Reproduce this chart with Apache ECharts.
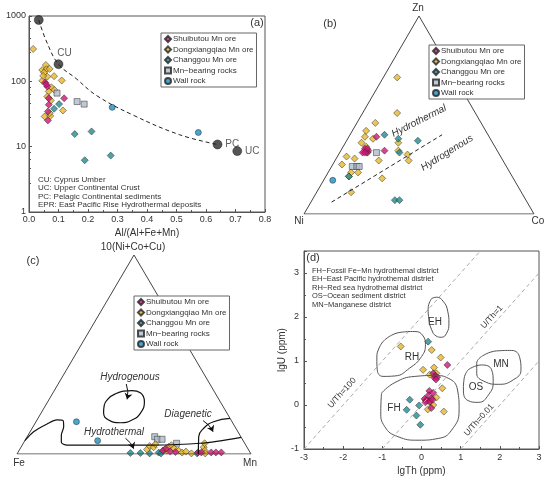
<!DOCTYPE html>
<html>
<head>
<meta charset="utf-8">
<script src="https://cdn.jsdelivr.net/npm/echarts@6/dist/echarts.min.js"></script>
<style>
  html, body { margin: 0; padding: 0; background: #fff; }
  #main { width: 550px; height: 478px; }
</style>
</head>
<body>
<div id="main"></div>
<script>
// ---------------------------------------------------------------- names / colours
var seriesNames = ['Shuibutou Mn ore', 'Dongxiangqiao Mn ore', 'Changgou Mn ore', 'Mn\u2212bearing rocks', 'Wall rock'];

// ---------------------------------------------------------------- (a) Fe/Ti vs Al/(Al+Fe+Mn)
var aShuibutou = [[0.055, 96], [0.062, 83], [0.067, 55], [0.119, 55], [0.067, 44], [0.064, 34.5], [0.064, 25.2], [0.058, 90]];
var aDongxiangqiao = [[0.014, 313], [0.057, 178], [0.045, 149], [0.059, 153], [0.051, 136], [0.070, 155], [0.045, 102],
    [0.062, 118], [0.085, 120], [0.111, 103], [0.076, 81], [0.067, 70], [0.086, 74], [0.062, 58.5], [0.074, 51],
    [0.053, 29], [0.072, 29.6], [0.115, 35.8], [0.048, 121], [0.070, 32.6]];
var aChanggou = [[0.102, 44.8], [0.085, 38], [0.155, 15.6], [0.212, 17.1], [0.189, 6.2], [0.277, 7.3]];
var aMnRocks = [[0.095, 66], [0.163, 49], [0.187, 44.8]];
var aWallRock = [[0.282, 40], [0.574, 16.5]];
var aRefPoints = [[0.033, 870, ''], [0.100, 183, 'CU'], [0.639, 10.8, 'PC'], [0.706, 8.55, 'UC']];
var aMixCurve = [[0.033, 870], [0.060, 400], [0.100, 183], [0.160, 110], [0.228, 61], [0.351, 30.7], [0.511, 15.2], [0.639, 10.8]];
var aMixTicks = [[0.104, 167, '80'], [0.228, 61, '60'], [0.351, 30.7, '40'], [0.511, 15.2, '20']];
var aNotes = ['CU: Cyprus Umber', 'UC: Upper Continental Crust', 'PC: Pelagic Continental sediments', 'EPR: East Pacific Rise Hydrothermal deposits'];

// ---------------------------------------------------------------- (b) Ni-Co-Zn, each row [Ni, Co, Zn] %
var bShuibutou = [[57, 10, 33], [56, 12, 32], [57, 12, 31], [59, 10, 31], [56, 11, 33], [58, 11, 31], [49, 12, 39], [49, 19, 32]];
var bDongxiangqiao = [[25, 6, 69], [34, 15, 51], [46, 8, 46], [52, 6, 42], [54, 7, 39], [51, 11, 38], [57, 7, 36], [56, 10, 34],
    [57, 12, 31], [67, 4, 29], [64, 8, 28], [71, 4, 25], [54, 19, 27], [69, 10, 21], [66, 13, 21], [71, 10, 19], [57, 25, 18],
    [74, 15, 11], [41, 23, 36], [43, 25, 32], [40, 30, 30], [41, 32, 27]];
var bChanggou = [[45, 15, 40], [40, 22, 38], [43, 26, 31], [32, 31, 37], [71, 10, 19], [57, 36, 7], [55, 38, 7]];
var bMnRocks = [[53, 16, 31], [67, 9, 24], [65, 11, 24], [64, 12, 24]];
var bWallRock = [[79, 4, 17]];
var bDivider = [[85, 9, 6], [20, 40, 40]];

// ---------------------------------------------------------------- (c) Fe-Mn-10(Ni+Co+Cu), each row [Fe, Mn, 10(Ni+Co+Cu)] %
var cShuibutou = [[36.8, 61.5, 1.7], [35.0, 62.3, 2.7], [31.8, 67.2, 1.0], [22.2, 77.0, 0.8], [20.8, 78.4, 0.8],
    [16.6, 82.6, 0.8], [14.6, 84.6, 0.8], [12.3, 86.9, 0.8], [33.9, 64.9, 1.2]];
var cDongxiangqiao = [[43.3, 54.4, 2.3], [41.3, 54.7, 4.0], [39.9, 56.7, 3.4], [38.4, 56.7, 4.9], [35.7, 62.0, 2.3],
    [33.3, 63.0, 3.7], [31.8, 63.8, 4.4], [31.5, 65.7, 2.8], [30.1, 68.2, 1.7], [29.1, 70.2, 0.7], [27.2, 71.6, 1.2],
    [25.3, 74.4, 0.3], [18.5, 78.1, 3.4], [18.9, 79.4, 1.7], [19.4, 80.3, 0.3], [17.1, 77.5, 5.4], [35.0, 63.3, 1.7]];
var cChanggou = [[51.3, 48.2, 0.5], [47.0, 52.5, 0.5], [43.2, 56.5, 0.3], [39.1, 60.2, 0.7], [38.3, 61.4, 0.3], [22.9, 76.8, 0.3]];
var cMnRocks = [[36.8, 54.5, 8.7], [36.3, 56.3, 7.4], [34.3, 58.3, 7.4], [29.1, 65.5, 5.4]];
var cWallRock = [[66.5, 17.3, 16.2], [62.2, 31.1, 6.7]];
var cHydrogenousField = [[48.0, 24.9, 27.1], [42.9, 26.9, 30.2], [35.0, 33.2, 31.8], [31.9, 37.3, 30.8], [32.4, 41.3, 26.3],
    [37.1, 42.5, 20.4], [42.3, 40.6, 17.1], [47.9, 36.4, 15.7], [52.3, 30.6, 17.1], [52.6, 26.6, 20.8], [50.4, 25.0, 24.6],
    [48.0, 24.9, 27.1]];
var cHydrothermalLine = [[93.3, 0, 6.7], [87.3, 1.5, 11.2], [79.6, 5.3, 15.1], [74.4, 8.5, 17.1], [71.9, 11.3, 16.8],
    [73.2, 13.1, 13.7], [76.3, 14.2, 9.5], [78.1, 16.0, 5.9], [76.4, 19.1, 4.5], [40.8, 54.7, 4.5], [19.0, 75.6, 5.4], [0, 91.6, 8.4]];
var cDiageneticLine = [[22.5, 77.5, 0], [18.0, 73.3, 8.7], [13.8, 73.3, 12.9], [7.9, 75.9, 16.2], [0, 82.1, 17.9]];
var cArrows = [
    [[35.7, 29.1, 35.2], [39.2, 33.3, 27.5]],
    [[49.7, 42.4, 7.9], [48.8, 48.5, 2.7]],
    [[12.1, 71.1, 16.8], [10.6, 78.2, 11.2]]
];

// ---------------------------------------------------------------- (d) lgU vs lgTh
var dShuibutou = [[0.66, 0.91], [0.30, 0.72], [0.35, 0.66], [0.33, 0.62], [0.40, 0.63], [0.37, 0.58], [0.20, 0.32], [0.30, 0.28],
    [0.18, 0.22], [0.25, 0.15], [0.08, 0.14], [0.13, 0.10], [0.22, 0.08], [0.28, 0.12], [0.25, -0.07], [0.10, 0.06]];
var dDongxiangqiao = [[-0.53, 1.33], [0.26, 1.25], [0.49, 1.08], [0.04, 0.80], [0.32, 0.85], [0.21, 0.69], [0.38, 0.72],
    [0.53, 0.38], [0.57, -0.15], [0.16, -0.10], [0.38, 0.17], [0.22, 0.05], [0.30, 0.00], [0.10, 0.12]];
var dChanggou = [[0.17, 1.44], [-0.30, 0.12], [-0.06, -0.01], [-0.38, -0.11], [-0.13, -0.24], [-0.03, -0.45]];
var dFieldFH = [[-1.02, 0.27], [-0.68, 0.51], [-0.17, 0.65], [0.34, 0.67], [0.68, 0.61], [0.92, 0.34], [0.96, -0.11],
    [0.77, -0.57], [0.43, -0.76], [-0.09, -0.80], [-0.60, -0.72], [-0.94, -0.49], [-1.04, -0.15], [-1.02, 0.27]];
var dFieldEH = [[0.26, 2.42], [0.38, 2.45], [0.55, 2.36], [0.67, 2.13], [0.70, 1.86], [0.64, 1.63], [0.51, 1.54],
    [0.37, 1.57], [0.26, 1.71], [0.19, 1.94], [0.17, 2.20], [0.26, 2.42]];
var dFieldRH = [[-0.94, 1.48], [-0.55, 1.65], [-0.17, 1.67], [0.04, 1.57], [0.10, 1.37], [0.00, 1.10], [-0.30, 0.84],
    [-0.68, 0.66], [-0.98, 0.65], [-1.13, 0.80], [-1.14, 1.07], [-1.07, 1.32], [-0.94, 1.48]];
var dFieldOS = [[1.19, 0.80], [1.53, 0.91], [1.79, 0.80], [1.83, 0.53], [1.71, 0.23], [1.45, 0.06], [1.19, 0.10],
    [1.07, 0.34], [1.09, 0.61], [1.19, 0.80]];
var dFieldMN = [[1.53, 1.10], [1.92, 1.23], [2.30, 1.24], [2.51, 1.07], [2.54, 0.80], [2.34, 0.57], [1.96, 0.47],
    [1.62, 0.53], [1.41, 0.72], [1.41, 0.95], [1.53, 1.10]];
var dRatioLines = [
    [[-3, -1], [1.5, 3.5]],   // U/Th=100
    [[-1, -1], [3, 3]],       // U/Th=1
    [[1, -1], [3, 1]]         // U/Th=0.01
];
var dNotes = ['FH\u2212Fossil Fe\u2212Mn hydrothemal district', 'EH\u2212East Pacific hydrothemal distriet',
    'RH\u2212Red sea hydrothemal district', 'OS\u2212Ocean sediment district', 'MN\u2212Manganese district'];

// --------------------------------------------------------------------------------------------------------------------
var FONT = '"Liberation Sans", Arial, sans-serif';
var TXT = '#333';
var styles = [
    { symbol: 'diamond', size: 7, color: '#CC1674' },
    { symbol: 'diamond', size: 7, color: '#E6B62C' },
    { symbol: 'diamond', size: 7, color: '#1F8B8E' },
    { symbol: 'rect', size: 6, color: '#AEBBCB' },
    { symbol: 'circle', size: 6, color: '#1D8EC2' }
];

function tern(p) {
    var s = p[0] + p[1] + p[2];
    var top = p[2] / s;
    var right = p[1] / s;
    return [right + top / 2, top];
}

function scatter(idx, k, data) {
    return {
        name: seriesNames[k], type: 'scatter', xAxisIndex: idx, yAxisIndex: idx,
        symbol: styles[k].symbol, symbolSize: styles[k].size,
        itemStyle: { color: styles[k].color, borderColor: '#222', borderWidth: 0.6 },
        data: data
    };
}

function line(idx, data, opts) {
    var s = {
        type: 'line', xAxisIndex: idx, yAxisIndex: idx, data: data, symbol: 'none', silent: true,
        lineStyle: { color: '#222', width: 1 }
    };
    for (var k in opts) s[k] = opts[k];
    return s;
}

function legendAt(left, top) {
    return {
        data: seriesNames, left: left, top: top, orient: 'vertical', selectedMode: false,
        itemWidth: 6, itemHeight: 6, itemGap: 2.5, padding: [2, 3, 2, 3],
        borderColor: '#666', borderWidth: 1, backgroundColor: '#fff',
        textStyle: { fontSize: 8, color: TXT, fontFamily: FONT, padding: [0, 0, 0, -3] }
    };
}

function text(x, y, str, size, extra) {
    var t = {
        type: 'text', x: x, y: y, silent: true,
        style: { text: str, fontSize: size, fontFamily: FONT, fill: TXT, align: 'center', verticalAlign: 'middle' }
    };
    if (extra) {
        for (var k in extra) {
            if (k === 'rotation') t.rotation = extra[k] * Math.PI / 180;
            else t.style[k] = extra[k];
        }
    }
    return t;
}

var axisLine = { show: true, onZero: false, lineStyle: { color: '#555', width: 1 } };
var axisName = { fontSize: 10, color: TXT, fontFamily: FONT };
var tickLabel = { fontSize: 9, color: TXT, fontFamily: FONT };

// ---------------------------------------------------------------- series
var series = [];

// (a)
series.push(line(0, aMixCurve, { smooth: 0.4, lineStyle: { color: '#222', width: 1, type: [4, 3] } }));
series.push(scatter(0, 1, aDongxiangqiao));
series.push(scatter(0, 0, aShuibutou));
series.push(scatter(0, 2, aChanggou));
series.push(scatter(0, 3, aMnRocks));
series.push(scatter(0, 4, aWallRock));
series.push({
    type: 'scatter', xAxisIndex: 0, yAxisIndex: 0, symbol: 'path://M0,0 L0,10', symbolSize: [1, 7],
    itemStyle: { color: 'none', borderColor: '#222', borderWidth: 1 },
    data: aMixTicks.map(function (d, i) {
        return { value: d, symbolRotate: [-50, -28, -20, -14][i] };
    }),
    label: {
        show: true, position: 'top', distance: 1, offset: [4, 0], fontSize: 9, color: TXT, fontFamily: FONT,
        formatter: function (p) { return p.value[2]; }
    }
});
series.push({
    type: 'scatter', xAxisIndex: 0, yAxisIndex: 0, symbol: 'circle', symbolSize: 9,
    itemStyle: { color: '#2a2a2a', borderColor: '#000', borderWidth: 0.5 },
    data: aRefPoints.map(function (d) {
        return {
            value: d,
            label: d[2] === 'CU' ? { position: 'top', distance: 1, offset: [6, 0] } : { position: 'right', distance: 3 }
        };
    }),
    label: {
        show: true, fontSize: 10, color: TXT, fontFamily: FONT,
        formatter: function (p) { return p.value[2]; }
    }
});

// (b)
series.push(line(1, [[100, 0, 0], [0, 100, 0], [0, 0, 100], [100, 0, 0]].map(tern), { lineStyle: { color: '#444', width: 1 } }));
series.push(line(1, bDivider.map(tern), { lineStyle: { color: '#222', width: 1, type: [4, 3] } }));
series.push(scatter(1, 1, bDongxiangqiao.map(tern)));
series.push(scatter(1, 0, bShuibutou.map(tern)));
series.push(scatter(1, 2, bChanggou.map(tern)));
series.push(scatter(1, 3, bMnRocks.map(tern)));
series.push(scatter(1, 4, bWallRock.map(tern)));

// (c)
series.push(line(2, [[100, 0, 0], [0, 100, 0], [0, 0, 100], [100, 0, 0]].map(tern), { lineStyle: { color: '#444', width: 1 } }));
series.push(line(2, cHydrogenousField.map(tern), { smooth: 0.5, lineStyle: { color: '#111', width: 1.2 } }));
series.push(line(2, cHydrothermalLine.map(tern), { smooth: 0.3, lineStyle: { color: '#111', width: 1.2 } }));
series.push(line(2, cDiageneticLine.map(tern), { smooth: 0.5, lineStyle: { color: '#111', width: 1.2 } }));
series.push({
    type: 'lines', coordinateSystem: 'cartesian2d', xAxisIndex: 2, yAxisIndex: 2, silent: true,
    symbol: ['none', 'arrow'], symbolSize: 6,
    lineStyle: { color: '#111', width: 1, curveness: 0.15, opacity: 1 },
    data: cArrows.map(function (a) { return { coords: [tern(a[0]), tern(a[1])] }; })
});
series.push(scatter(2, 4, cWallRock.map(tern)));
series.push(scatter(2, 3, cMnRocks.map(tern)));
series.push(scatter(2, 2, cChanggou.map(tern)));
series.push(scatter(2, 1, cDongxiangqiao.map(tern)));
series.push(scatter(2, 0, cShuibutou.map(tern)));

// (d)
dRatioLines.forEach(function (l) {
    series.push(line(3, l, { lineStyle: { color: '#aaa', width: 1, type: [4, 3] } }));
});
[dFieldFH, dFieldEH, dFieldRH, dFieldOS, dFieldMN].forEach(function (f) {
    series.push(line(3, f, { smooth: 0.5, lineStyle: { color: '#555', width: 1 } }));
});
series.push(scatter(3, 1, dDongxiangqiao));
series.push(scatter(3, 0, dShuibutou));
series.push(scatter(3, 2, dChanggou));

// ---------------------------------------------------------------- annotations
var graphics = [];
graphics.push(text(257, 23, '(a)', 11));
aNotes.forEach(function (s, i) {
    graphics.push(text(38, 180 + i * 8.2, s, 8, { align: 'left' }));
});
graphics.push(text(330, 24, '(b)', 11));
graphics.push(text(418, 8, 'Zn', 10));
graphics.push(text(299, 221, 'Ni', 10));
graphics.push(text(538, 221, 'Co', 10));
graphics.push(text(419, 121, 'Hydrothermal', 10, { fontStyle: 'italic', rotation: 27 }));
graphics.push(text(447, 153, 'Hydrogenous', 10, { fontStyle: 'italic', rotation: 32 }));
graphics.push(text(33, 261, '(c)', 11));
graphics.push(text(133, 247, '10(Ni+Co+Cu)', 10));
graphics.push(text(19, 463, 'Fe', 10));
graphics.push(text(250, 463, 'Mn', 10));
graphics.push(text(130, 377, 'Hydrogenous', 10, { fontStyle: 'italic' }));
graphics.push(text(114, 432, 'Hydrothermal', 10, { fontStyle: 'italic' }));
graphics.push(text(188, 414, 'Diagenetic', 10, { fontStyle: 'italic' }));
graphics.push(text(313, 258, '(d)', 11));
dNotes.forEach(function (s, i) {
    graphics.push(text(312, 271 + i * 8.4, s, 7.5, { align: 'left' }));
});
graphics.push(text(435, 322, 'EH', 10));
graphics.push(text(412, 357, 'RH', 10));
graphics.push(text(394, 408, 'FH', 10));
graphics.push(text(476, 387, 'OS', 10));
graphics.push(text(501, 364, 'MN', 10));
graphics.push(text(342, 393, 'U/Th=100', 8.5, { rotation: 48 }));
graphics.push(text(492, 317, 'U/Th=1', 8.5, { rotation: 48 }));
graphics.push(text(479, 420, 'U/Th=0.01', 8.5, { rotation: 48 }));

// ---------------------------------------------------------------- chart
var chart = echarts.init(document.getElementById('main'), null, { renderer: 'canvas' });
chart.setOption({
    animation: false,
    backgroundColor: '#fff',
    textStyle: { fontFamily: FONT },
    grid: [
        { left: 29, top: 16, width: 236, height: 196, show: true, borderColor: '#555', borderWidth: 1, outerBoundsMode: 'none' },
        { left: 304, top: 16, width: 230, height: 198, outerBoundsMode: 'none' },
        { left: 17, top: 255, width: 234, height: 199, outerBoundsMode: 'none' },
        { left: 304, top: 251, width: 235, height: 198, show: true, borderColor: '#555', borderWidth: 1, outerBoundsMode: 'none' }
    ],
    xAxis: [
        {
            gridIndex: 0, type: 'value', min: 0, max: 0.8, interval: 0.1,
            name: 'Al/(Al+Fe+Mn)', nameLocation: 'middle', nameGap: 16, nameTextStyle: axisName,
            axisLine: axisLine, axisTick: { inside: true, length: 3, lineStyle: { color: '#555' } },
            minorTick: { show: true, splitNumber: 2, length: 2, lineStyle: { color: '#555' } },
            splitLine: { show: false },
            axisLabel: Object.assign({ margin: 3, formatter: function (v) { return v.toFixed(1); } }, tickLabel)
        },
        { gridIndex: 1, type: 'value', min: 0, max: 1, show: false },
        { gridIndex: 2, type: 'value', min: 0, max: 1, show: false },
        {
            gridIndex: 3, type: 'value', min: -3, max: 3, interval: 1,
            name: 'lgTh (ppm)', nameLocation: 'middle', nameGap: 17, nameTextStyle: axisName,
            axisLine: axisLine, axisTick: { inside: true, length: 3, lineStyle: { color: '#555' } },
            minorTick: { show: true, splitNumber: 2, length: 2, lineStyle: { color: '#555' } },
            splitLine: { show: false },
            axisLabel: Object.assign({ margin: 4 }, tickLabel)
        }
    ],
    yAxis: [
        {
            gridIndex: 0, type: 'log', logBase: 10, min: 1, max: 1000,
            name: 'Fe/Ti', nameLocation: 'middle', nameGap: 16, nameTextStyle: axisName,
            axisLine: axisLine, axisTick: { inside: true, length: 3, lineStyle: { color: '#555' } },
            minorTick: { show: true, splitNumber: 5, length: 2, lineStyle: { color: '#555' } },
            splitLine: { show: false },
            axisLabel: Object.assign({ margin: 3, formatter: function (v) { return String(Math.round(v)); } }, tickLabel)
        },
        { gridIndex: 1, type: 'value', min: 0, max: 1, show: false },
        { gridIndex: 2, type: 'value', min: 0, max: 1, show: false },
        {
            gridIndex: 3, type: 'value', min: -1, max: 3.5, interval: 1,
            name: 'lgU (ppm)', nameLocation: 'middle', nameGap: 15, nameTextStyle: axisName,
            axisLine: axisLine, axisTick: { inside: true, length: 3, lineStyle: { color: '#555' } },
            minorTick: { show: true, splitNumber: 2, length: 2, lineStyle: { color: '#555' } },
            splitLine: { show: false },
            axisLabel: Object.assign({ margin: 5, formatter: function (v) { return v === 3.5 ? '' : String(v); } }, tickLabel)
        }
    ],
    legend: [legendAt(161, 33), legendAt(429, 45), legendAt(134, 296)],
    series: series,
    graphic: graphics
});
</script>
</body>
</html>
